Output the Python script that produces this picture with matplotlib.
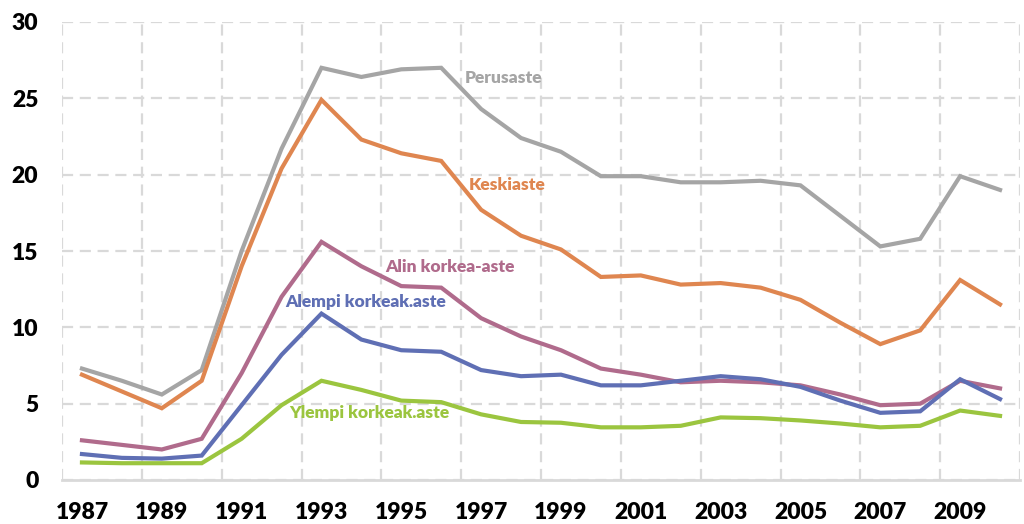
import matplotlib.pyplot as plt
import numpy as np

plt.rcParams['font.family'] = ['Lato', 'DejaVu Sans']

years = list(range(1987, 2011))

perusaste = [7.3, 6.5, 5.6, 7.2, 15.0, 21.7, 27.0, 26.4, 26.9, 27.0, 24.3, 22.4,
             21.5, 19.9, 19.9, 19.5, 19.5, 19.6, 19.3, 17.3, 15.3, 15.8, 19.9, 19.0]
keskiaste = [6.9, 5.8, 4.7, 6.5, 14.0, 20.4, 24.9, 22.3, 21.4, 20.9, 17.7, 16.0,
             15.1, 13.3, 13.4, 12.8, 12.9, 12.6, 11.8, 10.3, 8.9, 9.8, 13.1, 11.5]
alin_korkea = [2.6, 2.3, 2.0, 2.7, 7.0, 12.0, 15.6, 14.0, 12.7, 12.6, 10.6, 9.4,
               8.5, 7.3, 6.9, 6.4, 6.5, 6.4, 6.2, 5.6, 4.9, 5.0, 6.5, 6.0]
alempi_korkeak = [1.7, 1.45, 1.4, 1.6, 4.9, 8.2, 10.9, 9.2, 8.5, 8.4, 7.2, 6.8,
                  6.9, 6.2, 6.2, 6.5, 6.8, 6.6, 6.1, 5.2, 4.4, 4.5, 6.6, 5.3]
ylempi_korkeak = [1.15, 1.1, 1.1, 1.1, 2.7, 4.9, 6.5, 5.9, 5.2, 5.1, 4.3, 3.8,
                  3.75, 3.45, 3.45, 3.55, 4.1, 4.05, 3.9, 3.7, 3.45, 3.55, 4.55, 4.2]

series = [
    ("Perusaste", perusaste, "#a5a5a5", (9.6, 26.3)),
    ("Keskiaste", keskiaste, "#df8650", (9.7, 19.3)),
    ("Alin korkea-aste", alin_korkea, "#b06b8c", (7.6, 13.95)),
    ("Alempi korkeak.aste", alempi_korkeak, "#5f6fb4", (5.1, 11.65)),
    ("Ylempi korkeak.aste", ylempi_korkeak, "#9bc53f", (5.2, 4.4)),
]

fig = plt.figure(figsize=(10.24, 5.24), dpi=100)
ax = fig.add_axes([62 / 1024, 44 / 524, 958 / 1024, 458 / 524])

x = np.arange(len(years))
for name, vals, col, pos in series:
    ax.plot(x, vals, color=col, lw=3.0, solid_joinstyle='miter', zorder=3)
    ax.text(pos[0], pos[1], name, color=col, fontsize=12.5, fontweight='heavy',
            ha='left', va='center', zorder=4)

ax.set_xlim(-0.5, len(years) - 0.5)
ax.set_ylim(0, 30)

ax.set_xticks(x[::2])
ax.set_xticklabels([str(y) for y in years[::2]])
ax.set_xticks(np.arange(-0.5, len(years), 2), minor=True)
ax.set_yticks(range(0, 31, 5))

ax.grid(True, which='minor', axis='x', color='#d9d9d9', ls=(0, (5, 3)), lw=1.6)
ax.grid(True, which='major', axis='y', color='#d9d9d9', ls=(0, (5, 3)), lw=1.6)
ax.grid(False, which='major', axis='x')

for s in ['top', 'right', 'left']:
    ax.spines[s].set_visible(False)
ax.spines['bottom'].set_color('#d9d9d9')
ax.spines['bottom'].set_linewidth(2)

ax.tick_params(axis='both', which='both', length=0)
ax.tick_params(axis='y', pad=17, labelsize=16.5)
ax.tick_params(axis='x', pad=16, labelsize=16.5)
for lbl in ax.get_xticklabels() + ax.get_yticklabels():
    lbl.set_fontweight('heavy')

fig.savefig('out.png', dpi=100)
